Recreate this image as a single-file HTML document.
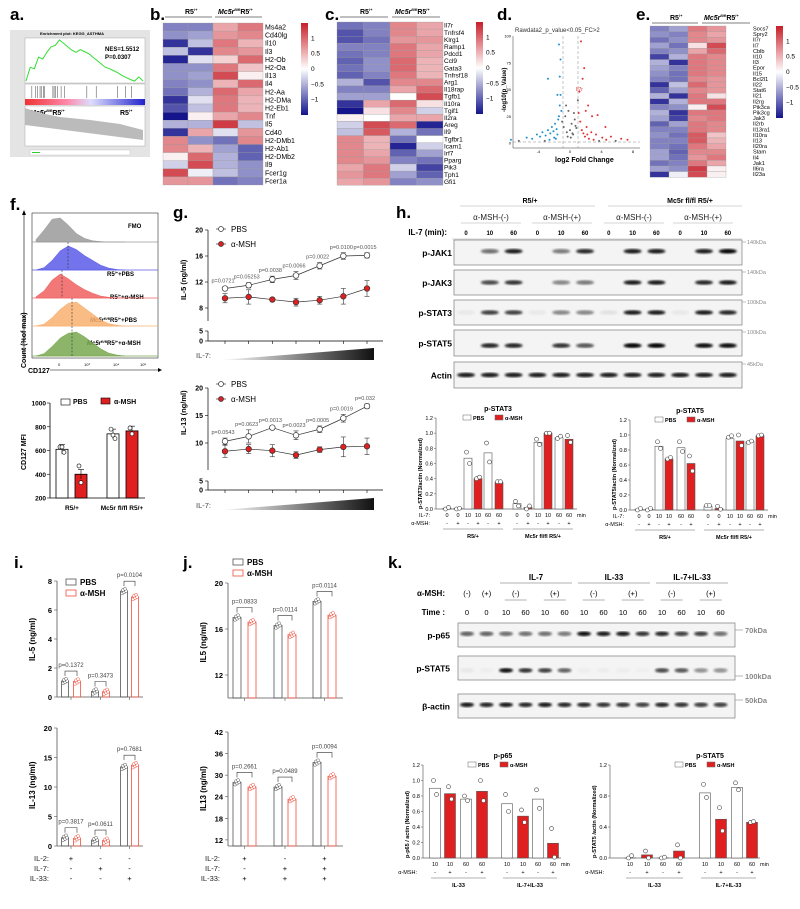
<!DOCTYPE html>
<html><head><meta charset="utf-8">
<style>
html,body{margin:0;padding:0;background:#fff;}
svg{display:block;font-family:"Liberation Sans",Arial,sans-serif;}
.pl{font-size:17px;font-weight:bold;}
.t6{font-size:6px;}
.t7{font-size:7px;}
.t8{font-size:8px;}
.t9{font-size:9px;}
.b{font-weight:bold;}
</style></head>
<body>
<svg id="fig" width="800" height="909" viewBox="0 0 800 909" xmlns="http://www.w3.org/2000/svg">
<defs>
<linearGradient id="ramp" x1="0" x2="1" y1="0" y2="0"><stop offset="0" stop-color="#fff"/><stop offset="1" stop-color="#111"/></linearGradient>
<linearGradient id="cbar" x1="0" x2="0" y1="0" y2="1"><stop offset="0" stop-color="#c81e28"/><stop offset="0.5" stop-color="#fff"/><stop offset="1" stop-color="#14148c"/></linearGradient>
<linearGradient id="gseaBar"><stop offset="0" stop-color="#e33"/><stop offset="0.35" stop-color="#f8a"/><stop offset="0.55" stop-color="#ddf"/><stop offset="1" stop-color="#22c"/></linearGradient>
<filter id="blur"><feGaussianBlur stdDeviation="1"/></filter>
</defs>

<text class="pl" x="10" y="20">a.</text>
<text class="pl" x="150" y="20">b.</text>
<text class="pl" x="325" y="20">c.</text>
<text class="pl" x="497" y="20">d.</text>
<text class="pl" x="636" y="20">e.</text>
<text class="pl" x="10" y="210">f.</text>
<text class="pl" x="173" y="218">g.</text>
<text class="pl" x="396" y="218">h.</text>
<text class="pl" x="14" y="568">i.</text>
<text class="pl" x="183" y="568">j.</text>
<text class="pl" x="388" y="568">k.</text>

<g>
<rect x="10" y="30" width="140" height="127" fill="#e4e4e4"/>
<rect x="25" y="38" width="120" height="45" fill="#fff" stroke="#999" stroke-width="0.4"/>
<rect x="25" y="84" width="120" height="20" fill="#fff" stroke="#999" stroke-width="0.4"/>
<rect x="25" y="99" width="120" height="6" fill="url(#gseaBar)"/>
<rect x="25" y="106" width="120" height="40" fill="#fff" stroke="#999" stroke-width="0.4"/>
<text x="40" y="35" class="t6" style="font-size:4px;font-weight:bold">Enrichment plot: KEGG_ASTHMA</text>
<text x="105" y="51" class="t6 b">NES=1.5512</text>
<text x="105" y="59" class="t6 b">P=0.0307</text>
<text x="30" y="115" class="t7 b"><tspan font-style="italic">Mc5r</tspan><tspan dy="-3" style="font-size:4px">fl/fl</tspan><tspan dy="3">R5</tspan><tspan dy="-3" style="font-size:4px">/+</tspan></text>
<text x="120" y="115" class="t7 b">R5<tspan dy="-3" style="font-size:4px">/+</tspan></text>
<polygon points="25,108 40,113 60,117 90,120 120,124 143,130 143,140 25,125" fill="#bbb"/>
<rect x="30" y="150" width="100" height="5" fill="#fff" stroke="#aaa" stroke-width="0.3"/>
<line x1="32" y1="152.5" x2="40" y2="152.5" stroke="#3c3" stroke-width="1"/>
</g>
<g id="gseaCurve"></g>
<g id="gseaHits"></g>

<g>
<line x1="165" y1="17" x2="212" y2="17" stroke="#000" stroke-width="0.6"/>
<line x1="215" y1="17" x2="262" y2="17" stroke="#000" stroke-width="0.6"/>
<text x="185" y="14" class="t7 b">R5<tspan dy="-3" style="font-size:4px">/+</tspan></text>
<text x="218" y="14" class="t7 b"><tspan font-style="italic">Mc5r</tspan><tspan dy="-3" style="font-size:4px">fl/fl</tspan><tspan dy="3">R5</tspan><tspan dy="-3" style="font-size:4px">/+</tspan></text>
</g>
<g>
<line x1="340" y1="17" x2="388" y2="17" stroke="#000" stroke-width="0.6"/>
<line x1="392" y1="17" x2="440" y2="17" stroke="#000" stroke-width="0.6"/>
<text x="360" y="14" class="t7 b">R5<tspan dy="-3" style="font-size:4px">/+</tspan></text>
<text x="395" y="14" class="t7 b"><tspan font-style="italic">Mc5r</tspan><tspan dy="-3" style="font-size:4px">fl/fl</tspan><tspan dy="3">R5</tspan><tspan dy="-3" style="font-size:4px">/+</tspan></text>
</g>
<g>
<line x1="652" y1="23" x2="698" y2="23" stroke="#000" stroke-width="0.6"/>
<line x1="702" y1="23" x2="750" y2="23" stroke="#000" stroke-width="0.6"/>
<text x="670" y="20" class="t7 b">R5<tspan dy="-3" style="font-size:4px">/+</tspan></text>
<text x="704" y="20" class="t7 b"><tspan font-style="italic">Mc5r</tspan><tspan dy="-3" style="font-size:4px">fl/fl</tspan><tspan dy="3">R5</tspan><tspan dy="-3" style="font-size:4px">/+</tspan></text>
</g>
<g id="hmB"></g>
<g id="hmC"></g>
<g id="hmE"></g>

<g>
<text x="515" y="32" class="t6" fill="#333">Rawdata2_p_value&lt;0.05_FC&gt;2</text>
<line x1="513" y1="36" x2="513" y2="148" stroke="#333" stroke-width="0.5"/>
<line x1="513" y1="148" x2="640" y2="148" stroke="#333" stroke-width="0.5"/>
<line x1="563" y1="36" x2="563" y2="148" stroke="#888" stroke-width="0.5" stroke-dasharray="3,2"/>
<line x1="578" y1="36" x2="578" y2="148" stroke="#888" stroke-width="0.5" stroke-dasharray="3,2"/>
<line x1="513" y1="142" x2="640" y2="142" stroke="#888" stroke-width="0.5" stroke-dasharray="3,2"/>
<text x="555" y="162" class="t7 b">log2 Fold Change</text>
<text transform="translate(506,112) rotate(-90)" class="t6 b">-log10(p_Value)</text>
</g>
<g id="volc"></g>

<g>
<line x1="24" y1="358" x2="24" y2="212" stroke="#000" stroke-width="0.6"/>
<polygon points="22,215 24,210 26,215" fill="#000"/>
<line x1="50" y1="370" x2="160" y2="370" stroke="#000" stroke-width="0.6"/>
<polygon points="158,368 162,370 158,372" fill="#000"/>
<rect x="32" y="213" width="126" height="145" fill="none" stroke="#000" stroke-width="0.5"/>
<text transform="translate(26,368) rotate(-90)" class="t7 b">Count (%of max)</text>
<text x="28" y="373" class="t7 b">CD127</text>
<text x="128" y="228" class="t6 b">FMO</text>
<text x="107" y="276" class="t6 b">R5<tspan dy="-2" style="font-size:4px">/+</tspan><tspan dy="2">+PBS</tspan></text>
<text x="110" y="299" class="t6 b">R5<tspan dy="-2" style="font-size:4px">/+</tspan><tspan dy="2">+α-MSH</tspan></text>
<text x="90" y="322" class="t6 b"><tspan font-style="italic">Mc5r</tspan><tspan dy="-2" style="font-size:4px">fl/fl</tspan><tspan dy="2">R5</tspan><tspan dy="-2" style="font-size:4px">/+</tspan><tspan dy="2">+PBS</tspan></text>
<text x="87" y="345" class="t6 b"><tspan font-style="italic">Mc5r</tspan><tspan dy="-2" style="font-size:4px">fl/fl</tspan><tspan dy="2">R5</tspan><tspan dy="-2" style="font-size:4px">/+</tspan><tspan dy="2">+α-MSH</tspan></text>
<text x="58" y="366" style="font-size:4px">0</text><text x="84" y="366" style="font-size:4px">10³</text><text x="113" y="366" style="font-size:4px">10⁴</text><text x="140" y="366" style="font-size:4px">10⁵</text>
</g>
<g id="hist"></g>

<g id="fbar"></g>
<g id="gtop"></g>
<g id="gbot"></g>

<g id="hblot"></g>
<g id="hc1"></g>
<g id="hc2"></g>

<g id="itop"></g>
<g id="ibot"></g>
<g id="jtop"></g>
<g id="jbot"></g>

<g id="kblot"></g>
<g id="kc1"></g>
<g id="kc2"></g>
</svg>

<script>
// ===== DATA =====
var gseaES = [0,0.2,0.18,0.35,0.32,0.42,0.5,0.52,0.6,0.55,0.5,0.45,0.42,0.46,0.43,0.4,0.35,0.3,0.25,0.2,0.18,0.15,0.12,0.08,0.05,0.02,0.0,0.06,0.0];
var gseaHits = [0.05,0.08,0.1,0.12,0.13,0.15,0.16,0.23,0.24,0.25,0.27,0.3,0.33,0.52,0.6,0.78,0.85,0.9];

var hmBGenes = ["Ms4a2","Cd40lg","Il10","Il3","H2-Ob","H2-Oa","Il13","Il4","H2-Aa","H2-DMa","H2-Eb1","Tnf","Il5","Cd40","H2-DMb1","H2-Ab1","H2-DMb2","Il9","Fcer1g","Fcer1a"];
var hmBValues = [[-0.8,-0.8,0.6,0.9],[-0.7,-0.6,0.7,0.8],[-1.3,-0.4,0.9,0.5],[-0.4,-1.3,0.8,0.7],[-1.4,-0.2,0.3,1.0],[-0.7,-0.7,0.9,0.4],[-0.7,-0.6,1.2,0.1],[-0.8,-0.7,0.5,1.0],[-0.9,-0.5,1.0,0.6],[-1.3,-0.2,0.9,0.5],[-1.1,-0.4,0.9,0.5],[-1.5,0.1,0.6,0.8],[-0.5,-0.5,1.3,-0.4],[-1.3,0.6,-0.2,0.7],[0.8,-0.7,-0.9,0.8],[0.8,0.5,-0.6,-1.0],[0.1,1.0,-0.5,-1.0],[-0.3,1.2,-0.5,-0.7],[1.2,-0.1,-0.4,-0.7],[0.7,0.7,-0.9,-0.8]];
var hmCGenes = ["Il7r","Tnfrsf4","Klrg1","Ramp1","Pdcd1","Ccl9","Gata3","Tnfrsf18","Arg1","Il18rap","Tgfb1","Il10ra","Tgif1","Il2ra","Areg","Il9","Tgfbr1","Icam1","Irf7","Pparg","Pik3","Tph1","Gfi1"];
var hmCValues = [[-0.9,-0.8,0.8,0.6],[-1.1,-0.8,0.8,0.6],[-1.1,-0.9,0.7,0.7],[-0.8,-0.8,0.9,0.6],[-0.9,-0.8,0.9,0.6],[-1.0,-0.7,1.0,0.5],[-0.9,-0.7,1.0,0.5],[-1.0,-0.8,0.9,0.5],[-0.5,-1.1,0.8,0.8],[-0.8,-0.8,0.6,1.0],[-0.6,-0.6,0.0,1.2],[-1.3,0.6,1.0,0.2],[-1.5,0.2,0.8,-0.3],[0.1,0.0,0.6,0.6],[-0.3,1.2,1.0,-1.4],[-0.4,1.1,-0.5,-0.9],[0.8,0.5,-0.9,0.0],[0.8,0.5,-1.4,-0.3],[0.8,0.6,-1.0,-0.6],[0.8,0.7,-0.8,-0.9],[0.6,0.9,-0.3,-1.2],[0.7,0.9,-0.6,-1.0],[0.6,0.7,-0.8,-0.7]];
var hmEGenes = ["Socs7","Spry2","Il7r","Il7","Cblb","Il10","Il3","Epor","Il15","Bcl2l1","Il22","Stat6","Il21","Il2rg","Pik3ca","Pik3cg","Jak3","Il2rb","Il13ra1","Il10ra","Il13","Il20ra","Stam","Il4","Jak1","Il6ra","Il23a"];
var hmEValues = [[-0.8,-0.6,0.9,0.7],[-0.7,-0.8,0.8,0.6],[-0.9,-0.7,0.8,0.7],[-0.6,-0.9,0.2,1.2],[-0.8,-0.7,0.6,1.0],[-1.2,-0.5,0.9,0.8],[-0.5,-1.3,0.9,0.8],[-0.6,-0.8,0.9,0.8],[-0.7,-0.9,0.9,0.8],[-0.8,-0.9,0.8,0.7],[-1.3,-0.4,1.0,0.7],[-1.0,-0.6,0.8,0.7],[-0.5,-1.3,0.9,0.2],[-1.3,-0.5,0.9,0.9],[-0.8,-0.7,0.1,1.2],[-0.5,-1.3,0.9,0.9],[-0.6,-1.2,0.8,0.9],[-1.0,-0.6,0.9,0.8],[-0.8,-0.8,0.9,0.8],[-0.7,-0.9,1.1,0.4],[-0.8,-0.8,1.1,0.5],[-0.8,-0.9,0.9,0.6],[-0.6,-1.0,0.8,0.8],[-0.6,-0.9,0.7,0.9],[-0.9,-0.8,0.9,0.6],[-0.6,-0.7,1.3,0.1],[-1.3,-0.1,1.2,0.1]];

var volcX = [-7.5,-6.5,-5.5,-4.8,-4.2,-3.8,-3.5,-3.1,-2.8,-2.5,-2.3,-2.1,-1.9,-1.7,-1.5,-1.4,-1.3,-1.2,-1.1,-2.0,-2.6,-3.2,-1.6,-1.8,-1.0,-0.8,-0.6,-0.4,-0.2,0,0.2,0.4,0.6,0.8,1.0,-0.5,0.5,0.1,-0.3,0.3,0.7,1.1,1.3,1.5,1.7,1.9,2.1,2.4,2.7,3.0,3.3,3.7,4.1,4.6,5.2,5.8,6.5,7.3,1.2,1.6,2.0,2.8,1.4,1.8,2.3,3.5,4.5,2.2,-1.4,-1.2,-1.3,-2.8,-1.6];
var volcY = [3,2,5,4,8,6,10,7,12,9,15,11,18,13,22,25,35,45,30,5,3,2,8,4,20,15,25,10,30,12,18,8,22,14,40,35,28,5,6,9,16,28,20,12,9,6,15,4,10,3,8,2,5,3,6,2,4,3,48,60,30,25,95,70,35,26,15,8,92,78,62,60,45];

var histNames = ["FMO","R5 PBS","R5 aMSH","Mc5r PBS","Mc5r aMSH"];
var histColors = ["#9a9a9a","#5a5ae8","#f06060","#f8b070","#78a850"];
var histDensity = [
 [0.1,0.5,0.95,1.0,0.7,0.35,0.15,0.05,0.02,0,0,0],
 [0,0.1,0.4,0.8,1.0,0.85,0.6,0.4,0.2,0.08,0.02,0],
 [0.05,0.3,0.75,1.0,0.8,0.55,0.35,0.2,0.08,0.03,0,0],
 [0,0.08,0.35,0.7,0.95,1.0,0.75,0.5,0.25,0.1,0.03,0],
 [0,0.1,0.4,0.75,0.95,1.0,0.8,0.55,0.3,0.12,0.04,0]];

var mfiGroups = ["R5/+","Mc5r fl/fl R5/+"];
var mfiPBS = [610,740];
var mfiMSH = [400,765];
var mfiPBSpts = [[630,630,585],[780,730,700]];
var mfiMSHpts = [[470,330],[790,740]];

var il7Levels = [1,2,3,4,5,6,7];
var il5PBS = [11,11.5,12.4,13,14.5,16,16.1];
var il5PBSerr = [0.3,0.4,0.5,0.6,0.5,0.5,0.4];
var il5MSH = [9.5,9.7,9.3,8.9,9.2,9.8,11];
var il5MSHerr = [0.7,1.1,0.3,0.6,0.6,1.2,1.2];
var il5P = ["p=0.0721","p=0.05253","p=0.0038","p=0.0066","p=0.0022","p=0.0100","p=0.0015"];
var il13PBS = [10.3,11.2,12.8,11.4,12.5,14.5,16.7];
var il13PBSerr = [0.6,1.2,0.3,0.8,0.6,0.7,0.4];
var il13MSH = [8.5,8.9,8.6,7.8,8.8,9.3,9.4];
var il13MSHerr = [1.1,0.8,1.1,0.6,0.5,1.8,1.5];
var il13P = ["p=0.0543","p=0.0623","p=0.0013","p=0.0023","p=0.0005","p=0.0019","p=0.032"];

var hLanes = ["0","10","60","0","10","60","0","10","60","0","10","60"];
var hBlotNames = ["p-JAK1","p-JAK3","p-STAT3","p-STAT5","Actin"];
var hBlotKDa = ["140kDa","140kDa","100kDa","100kDa","45kDa"];
var hBlotInt = [
 [0,0.55,0.9,0,0.5,0.85,0,0.9,0.9,0,0.9,1],
 [0,0.7,0.8,0,0.45,0.5,0,0.9,0.9,0,0.85,0.9],
 [0.05,0.75,0.75,0.05,0.45,0.45,0.08,0.9,0.9,0.05,0.9,0.85],
 [0,0.85,0.85,0,0.8,0.65,0,1,1,0,0.95,0.95],
 [0.9,0.9,0.9,0.9,0.9,0.9,0.9,0.9,0.9,0.9,0.9,0.9]];

var hIL7 = ["0","0","10","10","60","60"];
var hMSH = ["-","+","-","+","-","+"];
var pstat3R5 = [0.01,0.01,0.67,0.40,0.74,0.35];
var pstat3Mc = [0.07,0.02,0.88,1.0,0.94,0.92];
var pstat3R5pts = [[0,0.02],[0,0.01],[0.75,0.6],[0.4,0.42],[0.87,0.62],[0.36,0.36]];
var pstat3Mcpts = [[0.1,0.04],[0,0.04],[0.92,0.85],[1.0,1.0],[0.93,0.96],[0.97,0.88]];
var pstat5R5 = [0.01,0.01,0.85,0.68,0.83,0.62];
var pstat5Mc = [0.05,0.02,0.95,0.92,0.91,0.99];
var pstat5R5pts = [[0,0.02],[0,0.02],[0.91,0.82],[0.68,0.7],[0.91,0.78],[0.72,0.52]];
var pstat5Mcpts = [[0.06,0.06],[0.05,0.01],[0.97,0.99],[1.0,0.86],[0.9,0.92],[0.99,1.0]];

var cytoGroups = ["IL-2","IL-7","IL-33"];
var iIL5PBS = [1.1,0.38,7.3];
var iIL5MSH = [1.07,0.36,6.9];
var iIL5P = ["p=0.1372","p=0.3473","p=0.0104"];
var iIL13PBS = [1.4,1.0,13.4];
var iIL13MSH = [1.3,0.9,13.7];
var iIL13P = ["p=0.3817","p=0.0611","p=0.7681"];
var jIL5PBS = [17.0,16.3,18.4];
var jIL5MSH = [16.6,15.5,17.2];
var jIL5P = ["p=0.0833","p=0.0114","p=0.0114"];
var jIL13PBS = [28,26.7,33.5];
var jIL13MSH = [26.7,23.3,29.7];
var jIL13P = ["p=0.2661","p=0.0489","p=0.0094"];

var kTimes = ["0","0","10","60","10","60","10","60","10","60","10","60","10","60"];
var kBlotNames = ["p-p65","p-STAT5","β-actin"];
var kBlotInt = [
 [0.6,0.6,0.55,0.55,0.55,0.5,0.95,0.9,0.9,0.8,0.85,0.75,0.75,0.55],
 [0.05,0.03,0.95,0.8,0.75,0.6,0.03,0.03,0.03,0.02,0.7,0.65,0.4,0.4],
 [0.9,0.85,0.9,0.85,0.9,0.85,0.85,0.8,0.8,0.75,0.85,0.8,0.75,0.75]];
var kTime = ["10","10","60","60"];
var kMSH = ["-","+","-","+"];
var pp65IL33 = [0.90,0.83,0.76,0.86];
var pp65Both = [0.70,0.54,0.76,0.19];
var pp65IL33pts = [[1.0,0.82],[0.92,0.76],[0.8,0.74],[1.0,0.74]];
var pp65Bothpts = [[0.82,0.6],[0.62,0.46],[0.88,0.64],[0.38,0.01]];
var kstat5IL33 = [0.0,0.04,0.0,0.09];
var kstat5Both = [0.84,0.50,0.91,0.46];
var kstat5IL33pts = [[0,0.03],[0.09,0],[0,0.01],[0.17,0]];
var kstat5Bothpts = [[0.95,0.78],[0.65,0.35],[0.97,0.88],[0.46,0.47]];

// ===== HELPERS =====
var NS = "http://www.w3.org/2000/svg";
function mk(tag, attrs, parent){ var e=document.createElementNS(NS,tag); for(var k in attrs){e.setAttribute(k,attrs[k]);} parent.appendChild(e); return e; }
function txt(s, x, y, size, parent, anchor, bold, fill){ var t=mk("text",{x:x,y:y,"font-size":size,"text-anchor":anchor||"start","font-weight":bold?"bold":"normal",fill:fill||"#000"},parent); t.textContent=s; return t; }
function lin(a,b,c,d){ return function(v){ return c+(v-a)*(d-c)/(b-a); }; }
function hmColor(v){
  var t=Math.max(-1,Math.min(1,v/1.5));
  var r,g,b;
  if(t>=0){ r=255+(200-255)*t; g=255+(30-255)*t; b=255+(40-255)*t; }
  else { t=-t; r=255+(20-255)*t; g=255+(20-255)*t; b=255+(140-255)*t; }
  return "rgb("+Math.round(r)+","+Math.round(g)+","+Math.round(b)+")";
}

(function(){
  var p=document.getElementById("gseaCurve");
  var sx=lin(0,gseaES.length-1,26,143), sy=lin(0,0.6,81,40);
  var pts=gseaES.map(function(v,i){return sx(i)+","+sy(v);}).join(" ");
  var pl=mk("polyline",{points:pts,fill:"none",stroke:"#3d3","stroke-width":1},p);
  
  
  var h=document.getElementById("gseaHits");
  var hx=lin(0,1,26,143);
  gseaHits.forEach(function(v){
    var l=mk("line",{x1:hx(v),x2:hx(v),y1:86,y2:98,stroke:"#444","stroke-width":0.5},h);
    
    
  });
})();

function heatmap(id, genes, vals, x0, y0, cw, rh, lx, fs, cbx, cby){
  var g=document.getElementById(id);
  vals.forEach(function(row,i){
    row.forEach(function(v,j){
      var r=mk("rect",{x:x0+j*cw,y:y0+i*rh,width:cw,height:rh,fill:hmColor(v),stroke:"#999","stroke-width":0.3},g);
      
      
    });
    var t=txt(genes[i],lx,y0+i*rh+rh*0.8,fs,g);
    
    
  });
  var cb=mk("rect",{x:cbx,y:cby,width:7,height:92,fill:"url(#cbar)"},g);
  
  
  var cs=lin(1.5,-1.5,cby,cby+92);
  [1,0.5,0,-0.5,-1].forEach(function(v){ txt(String(v).replace("-","−"),cbx+10,cs(v)+2,6.5,g); });
}
heatmap("hmB",hmBGenes,hmBValues,163,23,25,8.1,265,7,301,23);
heatmap("hmC",hmCGenes,hmCValues,337,22,26.5,7.1,444,6.5,476,22);
heatmap("hmE",hmEGenes,hmEValues,650,26,19,5.6,753,5.6,776,26);

(function(){
  var g=document.getElementById("volc");
  var sx=lin(0,8,570,633), sy=lin(0,100,143,36);
  volcX.forEach(function(x,i){
    var y=volcY[i]; var c=(x<-1&&y>2)?"#1f8fd0":((x>1&&y>2)?"#e03030":"#666");
    var d=mk("circle",{cx:sx(x),cy:sy(y),r:1,fill:c},g);
    
    
  });
  [-4,0,4,8].forEach(function(v){ txt(String(v),sx(v),153,4,g,"middle"); });
  [0,25,50,75,100].forEach(function(v){ txt(String(v),511,sy(v)+1.5,4,g,"end"); });
  txt("Il7r",576,91,5,g,"start",false,"#e03030");
})();

(function(){
  var g=document.getElementById("hist");
  var bases=[242,270,298,326,356], sx=lin(0,11,36,125);
  histDensity.forEach(function(d,k){
    var pts=[sx(0)+","+bases[k]];
    d.forEach(function(v,i){ pts.push(sx(i)+","+(bases[k]-v*24)); });
    pts.push(sx(11)+","+bases[k]);
    var p=mk("polygon",{points:pts.join(" "),fill:histColors[k],stroke:histColors[k],"stroke-width":0.5,"fill-opacity":0.85},g);
    
    
    mk("line",{x1:32,x2:158,y1:bases[k],y2:bases[k],stroke:histColors[k],"stroke-width":0.8},g);
  });
  [[68,242,270],[62,270,298],[72,298,326],[72,326,356]].forEach(function(a){ mk("line",{x1:a[0],x2:a[0],y1:a[1],y2:a[2],stroke:"#333","stroke-width":0.6,"stroke-dasharray":"2,1.5"},g); });
})();

(function(){
  var g=document.getElementById("fbar");
  var sy=lin(200,1000,498,403);
  mk("line",{x1:50,x2:50,y1:403,y2:498,stroke:"#000","stroke-width":0.8},g);
  mk("line",{x1:50,x2:145,y1:498,y2:498,stroke:"#000","stroke-width":0.8},g);
  [200,400,600,800,1000].forEach(function(v){ mk("line",{x1:47,x2:50,y1:sy(v),y2:sy(v),stroke:"#000","stroke-width":0.6},g); txt(String(v),46,sy(v)+2.5,6.5,g,"end",true); });
  var t=mk("text",{transform:"translate(26,470) rotate(-90)","font-size":7,"font-weight":"bold"},g); t.textContent="CD127 MFI";
  var cx=[[62,81],[113,132]];
  mfiPBS.forEach(function(v,i){
    [[mfiPBS[i],"#fff",mfiPBSpts[i]],[mfiMSH[i],"#e02020",mfiMSHpts[i]]].forEach(function(s,j){
      var x=cx[i][j];
      var b=mk("rect",{x:x-6,y:sy(s[0]),width:12,height:498-sy(s[0]),fill:s[1],stroke:"#000","stroke-width":0.8},g);
      
      
      mk("line",{x1:x,x2:x,y1:sy(s[0]+40),y2:sy(s[0]-40),stroke:"#000","stroke-width":0.6},g);
      mk("line",{x1:x-3,x2:x+3,y1:sy(s[0]+40),y2:sy(s[0]+40),stroke:"#000","stroke-width":0.6},g);
      s[2].forEach(function(p,k){ var c=mk("circle",{cx:x+(k-1)*2,cy:sy(p),r:2,fill:"#fff",stroke:"#000","stroke-width":0.6},g);   });
    });
  });
  txt("R5/+",72,510,6.5,g,"middle",true);
  txt("Mc5r fl/fl R5/+",122,510,6.5,g,"middle",true);
  mk("rect",{x:61,y:399,width:9,height:6,fill:"#fff",stroke:"#000","stroke-width":0.6},g); txt("PBS",73,404,7,g,"start",true);
  mk("rect",{x:101,y:398,width:9,height:6,fill:"#e02020",stroke:"#000","stroke-width":0.6},g); txt("α-MSH",114,404,7,g,"start",true);
})();

function lineChart(id, pbs, pbsE, msh, mshE, pvals, top, seg, low, label, triY){
  var g=document.getElementById(id);
  var sx=lin(1,7,225,367);
  var sy=lin(seg.v0, seg.v1, seg.y0, seg.y1);
  mk("line",{x1:208,x2:208,y1:seg.y1,y2:seg.yEnd,stroke:"#000","stroke-width":0.7},g);
  mk("line",{x1:208,x2:208,y1:low.y5,y2:low.y0,stroke:"#000","stroke-width":0.7},g);
  mk("line",{x1:208,x2:383,y1:low.y0,y2:low.y0,stroke:"#000","stroke-width":0.7},g);
  seg.ticks.forEach(function(v){ mk("line",{x1:205,x2:208,y1:sy(v),y2:sy(v),stroke:"#000","stroke-width":0.6},g); txt(String(v),203,sy(v)+2.5,7,g,"end",true); });
  mk("line",{x1:205,x2:208,y1:low.y5,y2:low.y5,stroke:"#000","stroke-width":0.6},g); txt("5",203,low.y5+2.5,7,g,"end",true);
  mk("line",{x1:205,x2:208,y1:low.y0,y2:low.y0,stroke:"#000","stroke-width":0.6},g); txt("0",203,low.y0+2.5,7,g,"end",true);
  il7Levels.forEach(function(l){ mk("line",{x1:sx(l),x2:sx(l),y1:low.y0,y2:low.y0+3,stroke:"#000","stroke-width":0.6},g); });
  var t=mk("text",{transform:"translate(186,"+(seg.y0-8)+") rotate(-90)","font-size":7.5,"font-weight":"bold"},g); t.textContent=label;
  [[msh,mshE,"#e02020"],[pbs,pbsE,"#fff"]].forEach(function(s){
    var pts=s[0].map(function(v,i){return sx(il7Levels[i])+","+sy(v);}).join(" ");
    var pl=mk("polyline",{points:pts,fill:"none",stroke:"#333","stroke-width":0.7},g);
    
    
    s[0].forEach(function(v,i){
      var x=sx(il7Levels[i]);
      mk("line",{x1:x,x2:x,y1:sy(v+s[1][i]),y2:sy(v-s[1][i]),stroke:"#333","stroke-width":0.6},g);
      mk("line",{x1:x-2.5,x2:x+2.5,y1:sy(v+s[1][i]),y2:sy(v+s[1][i]),stroke:"#333","stroke-width":0.6},g);
      mk("line",{x1:x-2.5,x2:x+2.5,y1:sy(v-s[1][i]),y2:sy(v-s[1][i]),stroke:"#333","stroke-width":0.6},g);
      var c=mk("circle",{cx:x,cy:sy(v),r:2.8,fill:s[2],stroke:"#333","stroke-width":0.7},g);
      
      
    });
  });
  pvals.forEach(function(p,i){ txt(p,sx(il7Levels[i])-2,sy(pbs[i]+pbsE[i])-4,5.5,g,"middle",false,"#555"); });
  mk("line",{x1:216,x2:226,y1:top,y2:top,stroke:"#333","stroke-width":0.7},g);
  mk("circle",{cx:221,cy:top,r:2.5,fill:"#fff",stroke:"#333","stroke-width":0.7},g);
  txt("PBS",231,top+3,8,g);
  mk("line",{x1:216,x2:226,y1:top+15,y2:top+15,stroke:"#333","stroke-width":0.7},g);
  mk("circle",{cx:221,cy:top+15,r:2.5,fill:"#e02020",stroke:"#333","stroke-width":0.7},g);
  txt("α-MSH",231,top+18,8,g);
  txt("IL-7:",196,triY+10,7.5,g,"start",false,"#444");
  var tri=mk("polygon",{points:"220,"+(triY+12)+" 374,"+(triY+12)+" 374,"+(triY)},g);
  tri.setAttribute("fill","url(#ramp)");
}
lineChart("gtop",il5PBS,il5PBSerr,il5MSH,il5MSHerr,il5P,229,{v0:8,v1:20,y0:308,y1:230,yEnd:321,ticks:[8,12,16,20]},{y5:331,y0:341},"IL-5 (ng/ml)",348);
lineChart("gbot",il13PBS,il13PBSerr,il13MSH,il13MSHerr,il13P,384,{v0:10,v1:20,y0:443,y1:388,yEnd:470,ticks:[10,15,20]},{y5:481,y0:490},"IL-13 (ng/ml)",498);

function blot(id, names, kda, ints, x0, x1, rows, lanes0, dx, bw, lblX){
  var g=document.getElementById(id);
  rows.forEach(function(r,k){
    mk("rect",{x:x0,y:r[0],width:x1-x0,height:r[1],fill:"#f4f4f4",stroke:"#666","stroke-width":0.6},g);
    var t=txt(names[k],lblX,r[0]+r[1]/2+3.5,8.5,g,"end",true);
    
    
    if(kda){ mk("line",{x1:x1,x2:x1+4,y1:r[0]+2,y2:r[0]+2,stroke:"#999","stroke-width":0.6},g); txt(kda[k],x1+5,r[0]+4,kda.size,g,"start",kda.bold,"#888"); }
    ints[k].forEach(function(v,i){
      if(v<=0) return;
      var e=mk("ellipse",{cx:lanes0+i*dx,cy:r[0]+r[1]*r[2],rx:bw,ry:2.3,fill:"#000","fill-opacity":v,filter:"url(#blur)"},g);
      
      
    });
  });
}
(function(){
  var k=hBlotKDa.slice(); k.size=5.5; k.bold=false;
  blot("hblot",hBlotNames,k,hBlotInt,454,742,[[240,25,0.45],[270,25,0.5],[300,25,0.5],[330,26,0.6],[362,26,0.5]],466,23.8,9,452);
  var g=document.getElementById("hblot");
  txt("R5/+",530,203,7,g,"middle",true);
  txt("Mc5r fl/fl R5/+",690,203,7,g,"middle",true);
  mk("line",{x1:460,x2:595,y1:206,y2:206,stroke:"#aaa","stroke-width":0.6},g);
  mk("line",{x1:608,x2:742,y1:206,y2:206,stroke:"#aaa","stroke-width":0.6},g);
  [["α-MSH-(-)",491],["α-MSH-(+)",562],["α-MSH-(-)",634],["α-MSH-(+)",703]].forEach(function(a){ txt(a[0],a[1],220,8,g,"middle",false,"#222"); mk("line",{x1:a[1]-30,x2:a[1]+30,y1:223,y2:223,stroke:"#aaa","stroke-width":0.6},g); });
  txt("IL-7 (min):",447,235,8,g,"end",true);
  hLanes.forEach(function(l,i){ txt(l,466+i*23.8,235,6,g,"middle",true); });
  mk("line",{x1:452,x2:742,y1:239,y2:239,stroke:"#aaa","stroke-width":0.5},g);
})();
(function(){
  blot("kblot",kBlotNames,null,kBlotInt,458,735,[[623,24,0.45],[656,24,0.6],[694,24,0.45]],467,19.5,7,450);
  var g=document.getElementById("kblot");
  [["70kDa",630],["100kDa",676],["50kDa",700]].forEach(function(a){ mk("line",{x1:735,x2:743,y1:a[1],y2:a[1],stroke:"#999","stroke-width":0.7},g); txt(a[0],745,a[1]+3,7.5,g,"start",true,"#888"); });
  txt("α-MSH:",445,596,8,g,"end",true);
  ["(-)","(+)"].forEach(function(s,i){ txt(s,467+i*19.5,596,7.5,g,"middle"); });
  [["IL-7",536],["IL-33",614],["IL-7+IL-33",692]].forEach(function(a){ txt(a[0],a[1],580,8,g,"middle",true); mk("line",{x1:a[1]-36,x2:a[1]+36,y1:583,y2:583,stroke:"#666","stroke-width":0.6},g); });
  for(var i=0;i<6;i++){ var x=467+19.5*(2.5+2*i); txt(i%2?"(+)":"(-)",x,596,7.5,g,"middle"); mk("line",{x1:x-11,x2:x+11,y1:600,y2:600,stroke:"#666","stroke-width":0.5},g); }
  txt("Time  :",445,615,8,g,"end",true);
  kTimes.forEach(function(t,i){ txt(t,467+i*19.5,615,7.5,g,"middle"); });
})();

function pairBars(id, ax, y0, y1, groups, pts, xs, w, title, ylab, ticks, legX, xlabels, groupNames, extraLab){
  var g=document.getElementById(id);
  var sy=lin(0,1.2,y0,y1);
  mk("line",{x1:ax,x2:ax,y1:y1,y2:y0,stroke:"#666","stroke-width":0.7},g);
  mk("line",{x1:ax,x2:xs[xs.length-1]+8,y1:y0,y2:y0,stroke:"#666","stroke-width":0.7},g);
  ticks.forEach(function(v){ mk("line",{x1:ax-2,x2:ax,y1:sy(v),y2:sy(v),stroke:"#666","stroke-width":0.6},g); txt(v.toFixed(1),ax-3,sy(v)+2,5.5,g,"end"); });
  var t=mk("text",{transform:"translate("+(ax-14)+","+(y0)+") rotate(-90)","font-size":5.5,"font-weight":"bold"},g); t.textContent=ylab;
  txt(title,legX+15,y1-7,7,g,"middle",true);
  mk("rect",{x:legX-20,y:y1-3,width:8,height:5,fill:"#fff",stroke:"#666","stroke-width":0.5},g); txt("PBS",legX-10,y1+2,5.5,g,"start",true);
  mk("rect",{x:legX+12,y:y1-3,width:8,height:5,fill:"#e02020",stroke:"#666","stroke-width":0.5},g); txt("α-MSH",legX+22,y1+2,5.5,g,"start",true);
  var vals=groups[0].concat(groups[1]); var pp=pts[0].concat(pts[1]);
  vals.forEach(function(v,i){
    var x=xs[i];
    var b=mk("rect",{x:x-w/2,y:sy(v),width:w,height:Math.max(0.1,y0-sy(v)),fill:(i%2?"#e02020":"#fff"),stroke:"#555","stroke-width":0.6},g);
    
    
    pp[i].forEach(function(p,k){ var c=mk("circle",{cx:x+(k?1.5:-1.5),cy:sy(p),r:2,fill:"#fff",stroke:"#444","stroke-width":0.6},g);   });
    xlabels.forEach(function(arr,r){ txt(arr[i%arr.length],x,y0+8+r*8,5.5,g,"middle"); });
  });
  extraLab.forEach(function(s,r){ txt(s,ax-6,y0+8+r*8,5.5,g,"end"); });
  txt("min",xs[xs.length-1]+8,y0+8,5.5,g);
  var half=vals.length/2;
  [[xs[0],xs[half-1],groupNames[0]],[xs[half],xs[vals.length-1],groupNames[1]]].forEach(function(a){
    var yy=y0+8+xlabels.length*8-4;
    mk("line",{x1:a[0]-4,x2:a[1]+4,y1:yy,y2:yy,stroke:"#666","stroke-width":0.6},g);
    txt(a[2],(a[0]+a[1])/2,yy+9,5.5,g,"middle",true);
  });
}
pairBars("hc1",436,509,418,[pstat3R5,pstat3Mc],[pstat3R5pts,pstat3Mcpts],[447,458,468,478,488,499,517,528,538,548,559,569],8,"p-STAT3","p-STAT3/actin (Normalized)",[0,0.2,0.4,0.6,0.8,1.0,1.2],483,[hIL7,hMSH],["R5/+","Mc5r fl/fl R5/+"],["IL-7:","α-MSH:"]);
pairBars("hc2",630,510,420,[pstat5R5,pstat5Mc],[pstat5R5pts,pstat5Mcpts],[639,649,659,669,681,691,708,719,730,740,750,760],8,"p-STAT5","p-STAT5/actin (Normalized)",[0,0.2,0.4,0.6,0.8,1.0,1.2],675,[hIL7,hMSH],["R5/+","Mc5r fl/fl R5/+"],["IL-7:","α-MSH:"]);
pairBars("kc1",423,858,765,[pp65IL33,pp65Both],[pp65IL33pts,pp65Bothpts],[435,450,466,482,507,523,538,553],11,"p-p65","p-p65 / actin (Normalized)",[0,0.2,0.4,0.6,0.8,1.0,1.2],488,[kTime,kMSH],["IL-33","IL-7+IL-33"],["","α-MSH:"]);
pairBars("kc2",610,858,765,[kstat5IL33,kstat5Both],[kstat5IL33pts,kstat5Bothpts],[630,647,663,679,705,721,737,752],11,"p-STAT5","p-STAT5 /actin (Normalized)",[0,0.4,0.8,1.2],695,[kTime,kMSH],["IL-33","IL-7+IL-33"],["","α-MSH:"]);

function cytoChart(id, ax, xEnd, yTop, yBot, vMin, vMax, ticks, pbs, msh, pvals, xs, w, ylab, signs, showLegend, legY){
  var g=document.getElementById(id);
  var sy=lin(vMin,vMax,yBot,yTop);
  mk("line",{x1:ax,x2:ax,y1:yTop,y2:yBot,stroke:"#555","stroke-width":0.8},g);
  mk("line",{x1:ax,x2:xEnd,y1:yBot,y2:yBot,stroke:"#555","stroke-width":0.8},g);
  ticks.forEach(function(v){ mk("line",{x1:ax-3,x2:ax,y1:sy(v),y2:sy(v),stroke:"#555","stroke-width":0.6},g); txt(String(v),ax-5,sy(v)+3,7.5,g,"end",true); });
  var t=mk("text",{transform:"translate("+(ax-22)+","+((yTop+yBot)/2+22)+") rotate(-90)","font-size":8,"font-weight":"bold"},g); t.textContent=ylab;
  pbs.forEach(function(v,i){
    [[v,"#555",xs[i][0]],[msh[i],"#f05040",xs[i][1]]].forEach(function(s,k){
      var x=s[2], yv=sy(s[0]);
      var b=mk("rect",{x:x-w/2,y:yv,width:w,height:yBot-yv,fill:"none",stroke:s[1],"stroke-width":0.8},g);
      
      
      var e=(vMax-vMin)*0.025;
      mk("line",{x1:x,x2:x,y1:sy(s[0]+e),y2:sy(s[0]-e),stroke:s[1],"stroke-width":0.6},g);
      [-2,0,2,-1,1].forEach(function(o,q){ var c=mk("circle",{cx:x+o,cy:sy(s[0]+(q-2)*e*0.4),r:1.5,fill:"#fff",stroke:s[1],"stroke-width":0.5},g);   });
    });
    mk("line",{x1:(xs[i][0]+xs[i][1])/2,x2:(xs[i][0]+xs[i][1])/2,y1:yBot,y2:yBot+3,stroke:"#555","stroke-width":0.6},g);
    var top=Math.min(sy(v),sy(msh[i]))-10;
    mk("polyline",{points:xs[i][0]+","+(top+5)+" "+xs[i][0]+","+top+" "+xs[i][1]+","+top+" "+xs[i][1]+","+(top+5),fill:"none",stroke:"#333","stroke-width":0.6},g);
    txt(pvals[i],(xs[i][0]+xs[i][1])/2,top-4,6,g,"middle",false,"#444");
  });
  if(signs){
    ["IL-2:","IL-7:","IL-33:"].forEach(function(l,r){
      txt(l,ax-8,yBot+15+r*10,7.5,g,"end",false,"#222");
      signs[r].forEach(function(s,i){ txt(s,(xs[i][0]+xs[i][1])/2,yBot+15+r*10,7.5,g,"middle"); });
    });
  }
  if(showLegend){
    mk("rect",{x:showLegend,y:legY,width:10,height:6,fill:"none",stroke:"#555","stroke-width":0.8},g); txt("PBS",showLegend+14,legY+6,8,g,"start",true);
    mk("rect",{x:showLegend,y:legY+11,width:10,height:6,fill:"none",stroke:"#f05040","stroke-width":0.8},g); txt("α-MSH",showLegend+14,legY+17,8,g,"start",true);
  }
}
cytoChart("itop",57,143,581,697,0,8,[0,2,4,6,8],iIL5PBS,iIL5MSH,iIL5P,[[65,77],[95,106],[124,135]],7,"IL-5 (ng/ml)",null,66,579);
cytoChart("ibot",57,143,728,846,0,20,[0,5,10,15,20],iIL13PBS,iIL13MSH,iIL13P,[[65,77],[95,106],[124,135]],7,"IL-13 (ng/ml)",[["+","-","-"],["-","+","-"],["-","-","+"]],null,0);
cytoChart("jtop",228,343,583,698,10,20,[12,16,20],jIL5PBS,jIL5MSH,jIL5P,[[237,252],[278,292],[317,332]],8,"IL5 (ng/ml)",null,233,559);
cytoChart("jbot",228,343,732,846,10.3,42,[12,18,24,30,36,42],jIL13PBS,jIL13MSH,jIL13P,[[237,252],[278,292],[317,332]],8,"IL13 (ng/ml)",[["+","-","+"],["-","+","+"],["+","+","+"]],null,0);
</script>
</body></html>
